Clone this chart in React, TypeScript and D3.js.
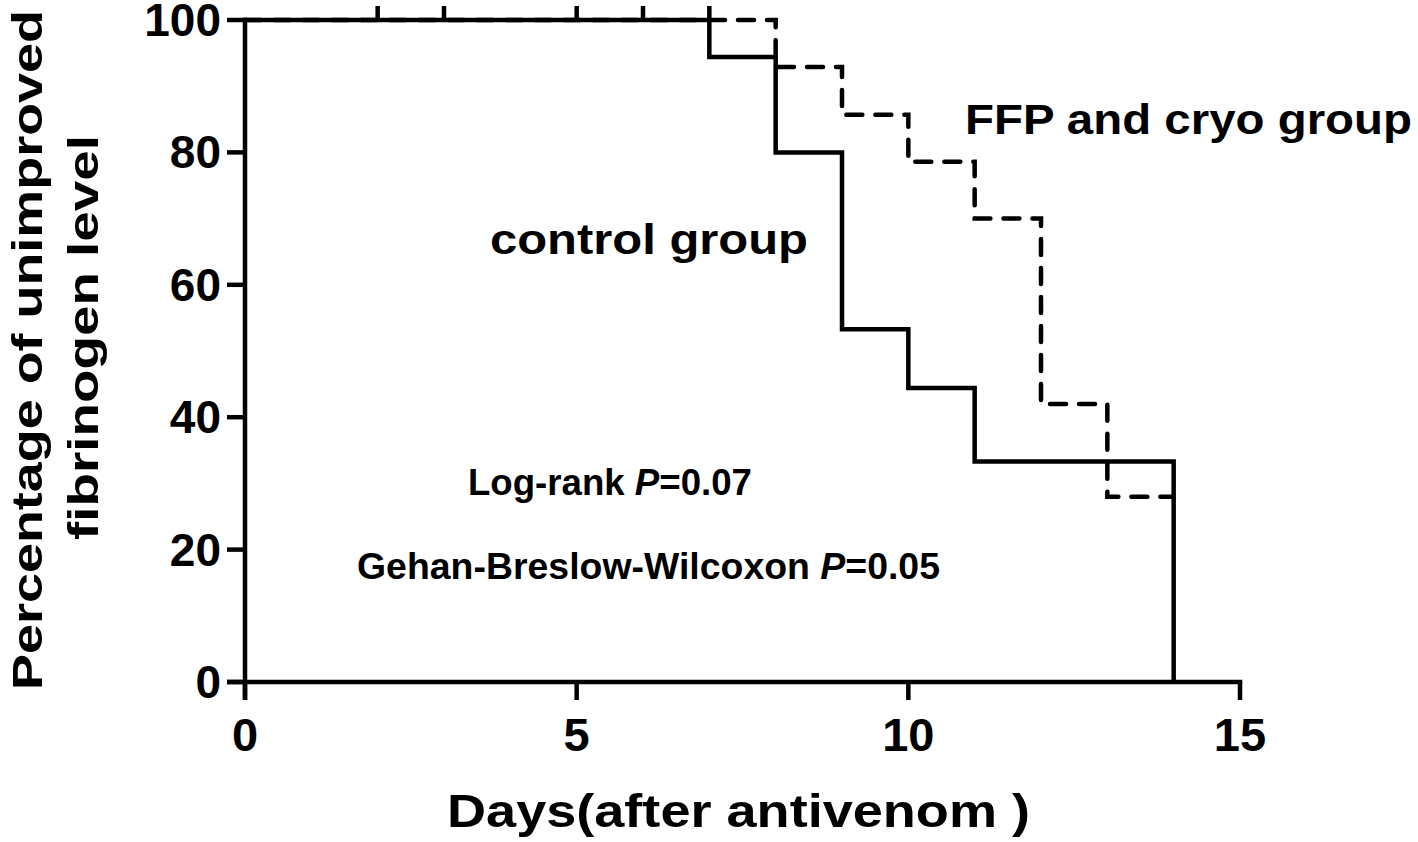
import React from "react";
import * as d3 from "d3";

const controlDays = [0, 7, 8, 9, 10, 11, 14];
const controlPct = [100, 94.4, 80, 53.3, 44.4, 33.3, 0];
const ffpDays = [0, 8, 9, 10, 11, 12, 13, 14];
const ffpPct = [100, 92.9, 85.7, 78.6, 70, 42, 28, 28];
const censorDays = [2, 3, 5, 6, 7];
const xTicks = [0, 5, 10, 15];
const yTicks = [0, 20, 40, 60, 80, 100];

const W = 1418;
const H = 842;
const FONT = "'Liberation Sans', Arial, Helvetica, sans-serif";

export default function App() {
  const x = d3.scaleLinear().domain([0, 15]).range([245, 1240]);
  const y = d3.scaleLinear().domain([0, 100]).range([682, 20]);
  const line = d3
    .line<[number, number]>()
    .x((d) => x(d[0]))
    .y((d) => y(d[1]))
    .curve(d3.curveStepAfter);
  const ctrl = line(controlDays.map((d, i) => [d, controlPct[i]] as [number, number])) || "";
  const ffp = line(ffpDays.map((d, i) => [d, ffpPct[i]] as [number, number])) || "";
  const sw = 4.5;
  const tick = 18;

  return (
    <svg
      width={W}
      height={H}
      style={{ position: "absolute", left: 0, top: 0, background: "#fff" }}
      fontFamily={FONT}
      fontWeight="bold"
    >
      <rect width={W} height={H} fill="#fff" />
      {/* curves */}
      <path d={ffp} fill="none" stroke="#000" strokeWidth={sw} strokeDasharray="16,13" strokeLinecap="round" />
      <path d={ctrl} fill="none" stroke="#000" strokeWidth={sw} />
      {censorDays.map((d) => (
        <line key={"c" + d} x1={x(d)} x2={x(d)} y1={y(100)} y2={y(100) - 14} stroke="#000" strokeWidth={sw} />
      ))}
      {/* y axis */}
      <line x1={x(0)} x2={x(0)} y1={y(100) - sw / 2} y2={y(0) + tick} stroke="#000" strokeWidth={sw} />
      {yTicks.map((t) => (
        <g key={"y" + t}>
          <line x1={x(0) - tick} x2={x(0)} y1={y(t)} y2={y(t)} stroke="#000" strokeWidth={sw} />
          <text x={x(0) - 24} y={y(t) + 16} textAnchor="end" fontSize={46}>
            {t}
          </text>
        </g>
      ))}
      {/* x axis */}
      <line x1={x(0) - tick} x2={x(15) + sw / 2} y1={y(0)} y2={y(0)} stroke="#000" strokeWidth={sw} />
      {xTicks.map((t) => (
        <g key={"x" + t}>
          <line x1={x(t)} x2={x(t)} y1={y(0)} y2={y(0) + tick} stroke="#000" strokeWidth={sw} />
          <text x={x(t)} y={751} textAnchor="middle" fontSize={47}>
            {t}
          </text>
        </g>
      ))}
      {/* axis titles */}
      <text x={447} y={827} fontSize={47} textLength={583} lengthAdjust="spacingAndGlyphs">
        Days(after antivenom )
      </text>
      <g transform="translate(42,690) rotate(-90)">
        <text x={0} y={0} fontSize={43} textLength={680} lengthAdjust="spacingAndGlyphs">
          Percentage of unimproved
        </text>
      </g>
      <g transform="translate(98,540) rotate(-90)">
        <text x={0} y={0} fontSize={43} textLength={405} lengthAdjust="spacingAndGlyphs">
          fibrinogen level
        </text>
      </g>
      {/* annotations */}
      <text x={965} y={134} fontSize={42} textLength={447} lengthAdjust="spacingAndGlyphs">
        FFP and cryo group
      </text>
      <text x={490} y={254} fontSize={42} textLength={318} lengthAdjust="spacingAndGlyphs">
        control group
      </text>
      <text x={468} y={495} fontSize={36} textLength={284} lengthAdjust="spacingAndGlyphs">
        Log-rank <tspan fontStyle="italic">P</tspan>=0.07
      </text>
      <text x={357} y={579} fontSize={36} textLength={583} lengthAdjust="spacingAndGlyphs">
        Gehan-Breslow-Wilcoxon <tspan fontStyle="italic">P</tspan>=0.05
      </text>
    </svg>
  );
}
